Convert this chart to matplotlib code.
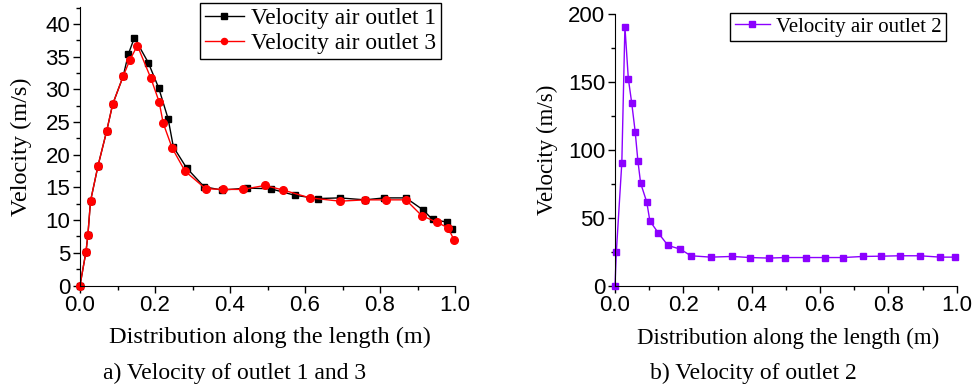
"""
Air outlet velocity distribution along the length (two panels).
"""

import matplotlib
matplotlib.use('Agg')
import matplotlib.pyplot as plt
from matplotlib.ticker import MultipleLocator

# -----------------------------------------------------------------------
# Data
# -----------------------------------------------------------------------

# Outlet 1 (black squares)
x_outlet1 = [0.0, 0.016, 0.021, 0.028, 0.048, 0.071, 0.087, 0.115, 0.129,
             0.145, 0.182, 0.210, 0.235, 0.249, 0.284, 0.331, 0.378, 0.446,
             0.508, 0.573, 0.634, 0.693, 0.760, 0.811, 0.869, 0.914, 0.940,
             0.978, 0.993]
v_outlet1 = [0.0, 5.2, 7.7, 12.9, 18.3, 23.6, 27.7, 32.0, 35.4,
             37.9, 34.1, 30.2, 25.5, 21.2, 18.0, 15.1, 14.6, 14.9,
             14.8, 13.8, 13.3, 13.4, 13.1, 13.4, 13.4, 11.6, 10.1,
             9.7, 8.6]

# Outlet 3 (red circles)
x_outlet3 = [0.0, 0.016, 0.021, 0.028, 0.048, 0.071, 0.087, 0.115, 0.133,
             0.153, 0.189, 0.211, 0.222, 0.246, 0.280, 0.335, 0.382, 0.434,
             0.493, 0.542, 0.613, 0.693, 0.760, 0.816, 0.869, 0.911, 0.951,
             0.982, 0.997]
v_outlet3 = [0.0, 5.2, 7.7, 12.9, 18.3, 23.6, 27.7, 32.0, 34.5,
             36.7, 31.7, 28.1, 24.8, 21.0, 17.5, 14.8, 14.7, 14.7,
             15.3, 14.6, 13.4, 12.9, 13.1, 13.1, 13.1, 10.7, 9.7,
             8.8, 7.0]

# Outlet 2 (purple squares)
x_outlet2 = [0.0, 0.004, 0.020, 0.029, 0.039, 0.049, 0.059, 0.067, 0.075,
             0.093, 0.102, 0.127, 0.155, 0.191, 0.222, 0.280, 0.343, 0.395,
             0.451, 0.497, 0.559, 0.615, 0.667, 0.727, 0.778, 0.834, 0.892,
             0.952, 0.996]
v_outlet2 = [0.0, 25.0, 90.6, 190.7, 152.4, 134.3, 113.4, 91.8, 75.4,
             61.4, 47.6, 38.6, 29.5, 26.8, 21.9, 20.9, 21.4, 20.6,
             20.2, 20.6, 20.6, 20.6, 20.6, 21.4, 21.6, 21.9, 21.9,
             20.9, 20.9]

# -----------------------------------------------------------------------
# Styling
# -----------------------------------------------------------------------

SERIF = ['Liberation Serif', 'DejaVu Serif']
SANS = ['Liberation Sans', 'DejaVu Sans']
TICK_SIZE = 16
PURPLE = '#8B00FF'


def style_axes(ax, ymax, y_major, y_minor, label_size, ylab_x, xlab_y):
    """Origin-like axes: left/bottom spines, outward ticks."""
    ax.set_xlim(0, 1.0)
    ax.set_ylim(0, ymax)
    ax.spines['top'].set_visible(False)
    ax.spines['right'].set_visible(False)
    ax.xaxis.set_major_locator(MultipleLocator(0.2))
    ax.xaxis.set_minor_locator(MultipleLocator(0.1))
    ax.yaxis.set_major_locator(MultipleLocator(y_major))
    ax.yaxis.set_minor_locator(MultipleLocator(y_minor))
    ax.tick_params(which='major', direction='out', length=5, width=1,
                   labelsize=TICK_SIZE, pad=2)
    ax.tick_params(which='minor', direction='out', length=3, width=1)
    ax.xaxis.set_major_formatter(plt.FuncFormatter(lambda v, _: f'{v:.1f}'))
    for lab in ax.get_xticklabels() + ax.get_yticklabels():
        lab.set_family(SANS)
    ax.set_xlabel('Distribution along the length (m)', family=SERIF,
                  fontsize=label_size)
    ax.set_ylabel('Velocity (m/s)', family=SERIF, fontsize=label_size)
    ax.xaxis.set_label_coords(0.506, xlab_y)
    ax.yaxis.set_label_coords(ylab_x, 0.5)


def add_legend(ax, anchor, size):
    leg = ax.legend(loc='upper right', bbox_to_anchor=anchor,
                    bbox_transform=fig.transFigure,
                    prop={'family': SERIF, 'size': size},
                    frameon=True, fancybox=False, edgecolor='black',
                    framealpha=1, handlelength=1.7, handletextpad=0.3,
                    borderpad=0.2, labelspacing=0.15, borderaxespad=0,
                    markerscale=0.8)
    leg.get_frame().set_linewidth(1.0)
    return leg


fig = plt.figure(figsize=(9.77, 3.9), dpi=100)

# Left panel: outlet 1 and 3
ax1 = fig.add_axes([80 / 977, 1 - 285.5 / 390, 375 / 977, 278.5 / 390])
ax1.plot(x_outlet1, v_outlet1, color='black', marker='s', markersize=5,
         linewidth=1.0, label='Velocity air outlet 1', clip_on=False)
ax1.plot(x_outlet3, v_outlet3, color='red', marker='o', markersize=5.5,
         linewidth=1.0, label='Velocity air outlet 3', clip_on=False)
style_axes(ax1, 42.6, 5, 2.5, 17.5, -0.128, -0.15)
add_legend(ax1, (441 / 977, 1 - 3 / 390), 16.8)

# Right panel: outlet 2
ax2 = fig.add_axes([615 / 977, 1 - 285.5 / 390, 341.7 / 977, 271.5 / 390])
ax2.plot(x_outlet2, v_outlet2, color=PURPLE, marker='s', markersize=5,
         linewidth=1.0, label='Velocity air outlet 2', clip_on=False)
style_axes(ax2, 200, 50, 25, 16.5, -0.166, -0.155)
add_legend(ax2, (946 / 977, 1 - 13 / 390), 15)

# Panel captions
fig.text(235 / 977, 1 - 373 / 390, 'a) Velocity of outlet 1 and 3',
         family=SERIF, fontsize=17, ha='center', va='center')
fig.text(753 / 977, 1 - 373 / 390, 'b) Velocity of outlet 2',
         family=SERIF, fontsize=17, ha='center', va='center')

fig.savefig('out.png', dpi=100)
